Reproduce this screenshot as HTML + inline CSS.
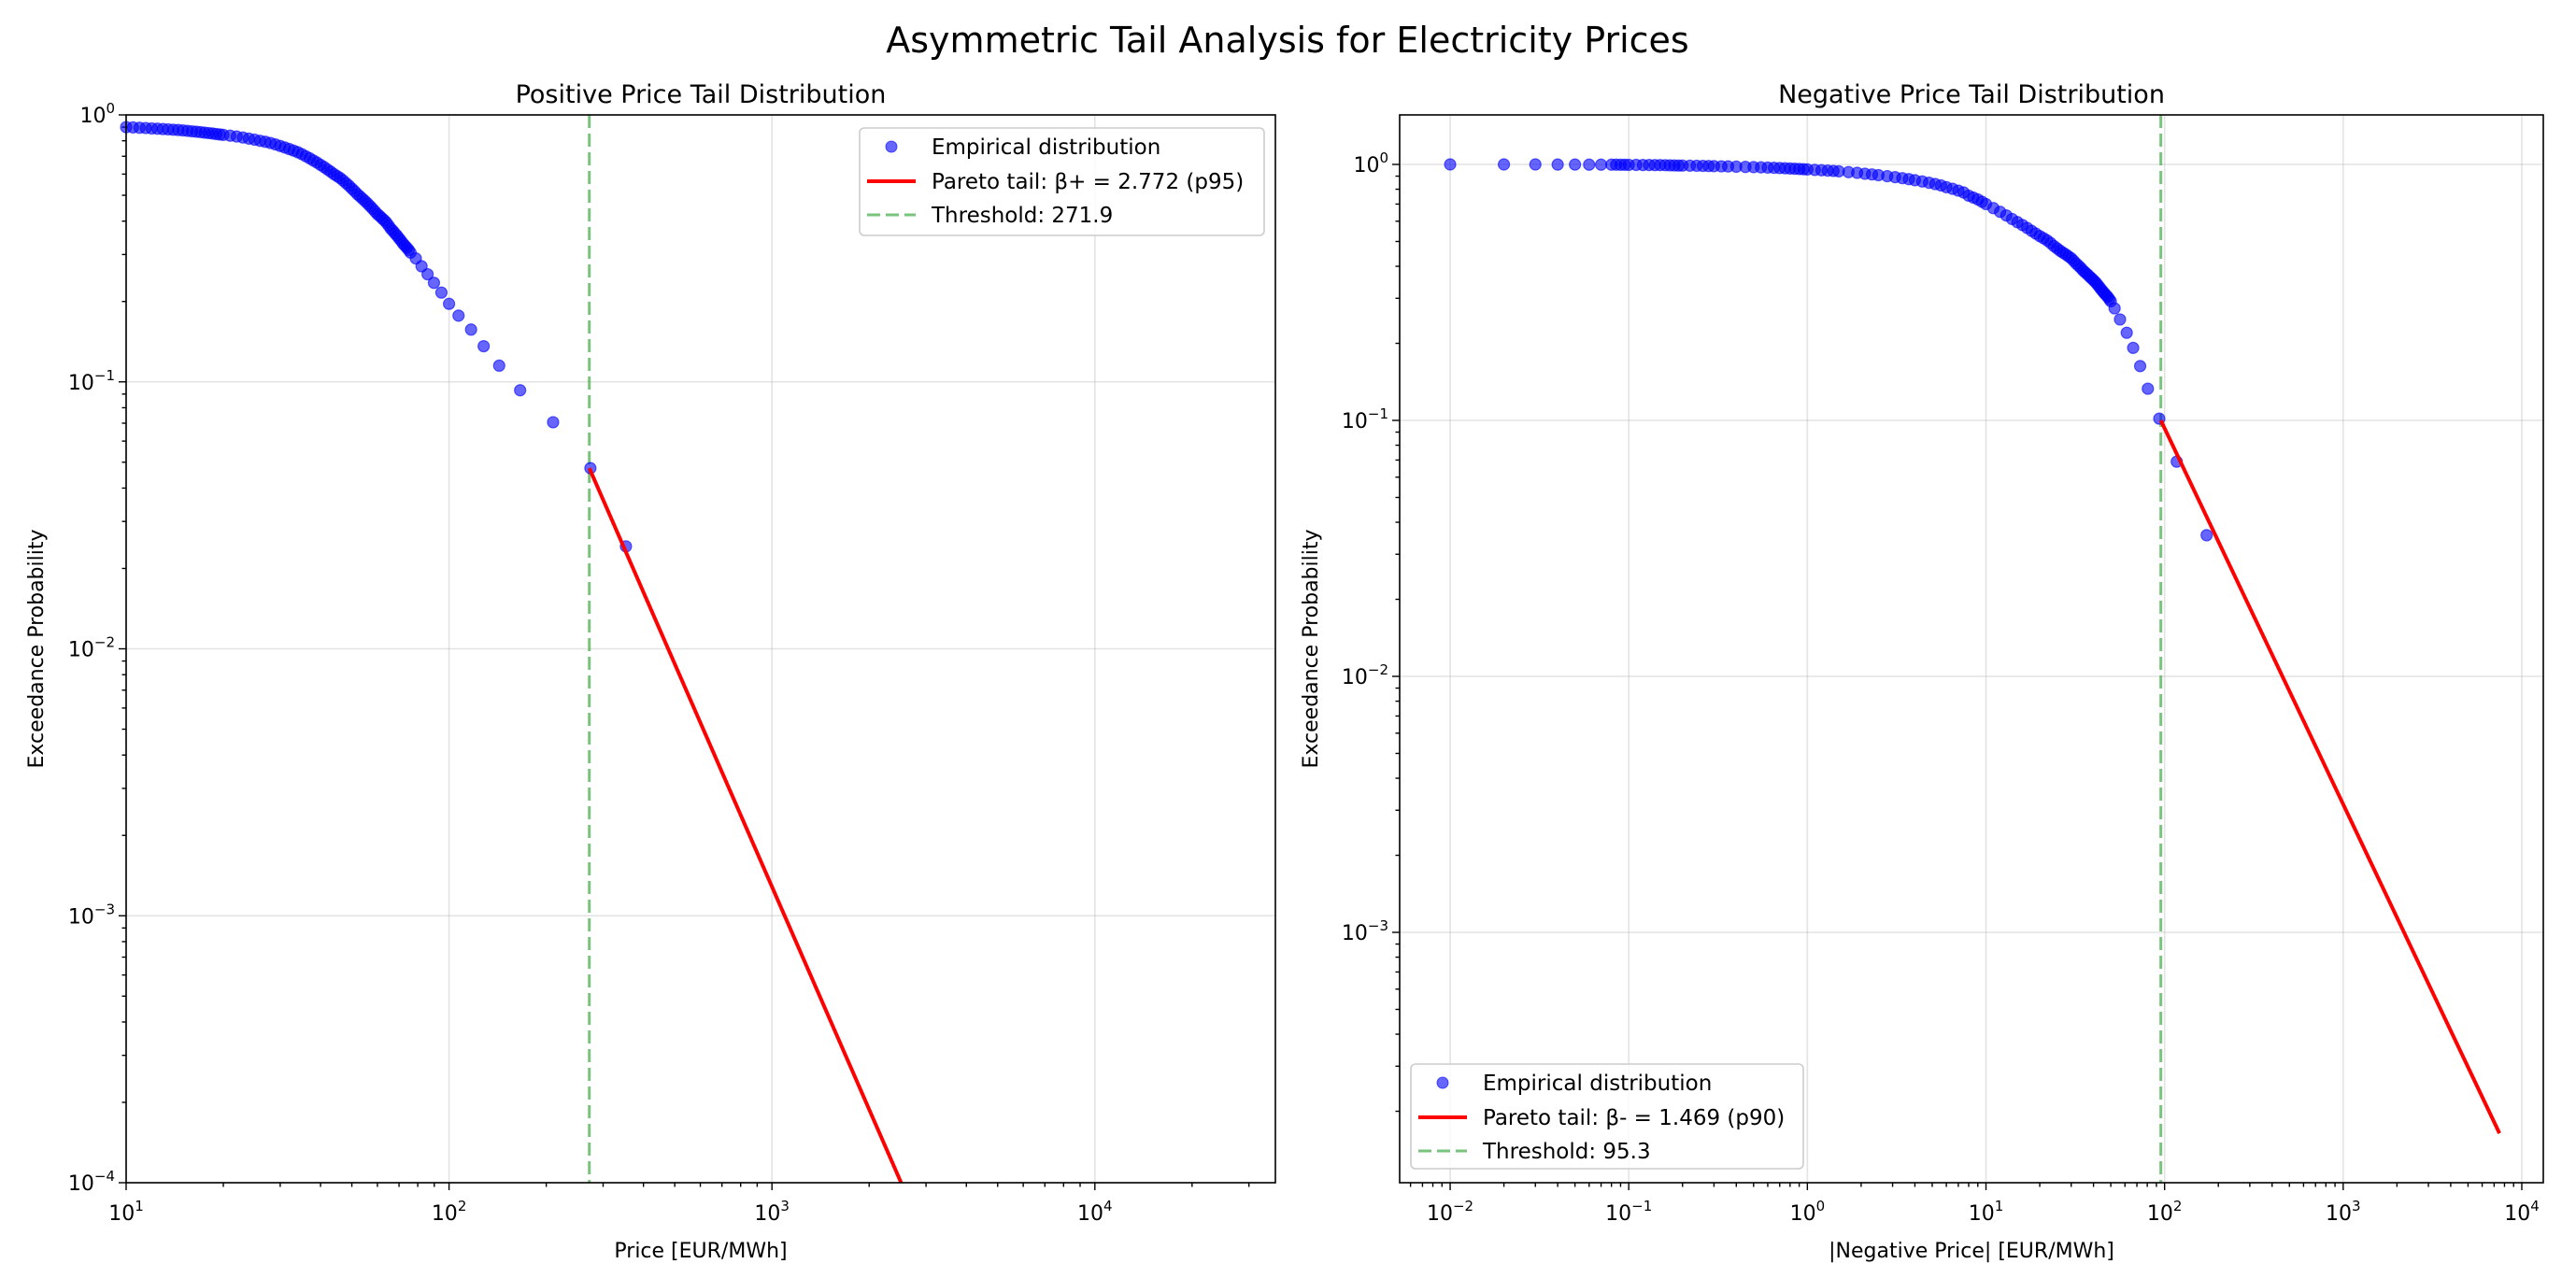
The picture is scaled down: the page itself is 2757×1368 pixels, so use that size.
<!DOCTYPE html>
<html><head><meta charset="utf-8"><style>
html,body{margin:0;padding:0;background:#fff;}
svg{display:block;font-family:"DejaVu Sans","Liberation Sans",sans-serif;}
</style></head><body>
<svg id="fig" width="2757" height="1368" viewBox="0 0 2757 1368" xmlns="http://www.w3.org/2000/svg">
<text x="1378" y="56" font-size="38" text-anchor="middle">Asymmetric Tail Analysis for Electricity Prices</text>
<g id="left"></g>
<g id="right"></g>
</svg>
<script>
// Positive tail data
const posX = [10,10.5,11,11.5,12,12.5,13,13.5,14,14.5,15,15.5,16,16.5,17,17.5,18,18.5,19,19.5,
  20,21,22,23,24,25,26,27,28,29,30,31,32,33,34,35,36,37,38,39,40,41,42,43,44,45,46,47,48,49,50,51,52,53,54,55,56,57,58,59,60,61,62,63,64,65,66,67,68,69,70,71,72,73,74,75,76,
  78.9,82.2,85.8,89.8,94.7,100,107,117,128,143,166,210,274,353];
const posY = [0.90,0.898,0.895,0.893,0.89,0.888,0.885,0.883,0.88,0.878,0.875,0.871,0.868,0.865,0.862,0.858,0.855,0.852,0.848,0.845,
  0.842,0.836,0.83,0.823,0.815,0.808,0.80,0.793,0.785,0.775,0.765,0.755,0.745,0.735,0.725,0.713,0.70,0.688,0.675,0.663,0.65,0.638,0.625,0.613,0.60,0.59,0.58,0.568,0.555,0.543,0.53,0.518,0.505,0.495,0.485,0.475,0.465,0.455,0.445,0.435,0.425,0.418,0.41,0.403,0.395,0.385,0.375,0.368,0.36,0.353,0.345,0.338,0.33,0.324,0.318,0.312,0.305,
  0.29,0.271,0.253,0.235,0.216,0.196,0.177,0.157,0.136,0.115,0.093,0.0706,0.0475,0.0242];
const posThreshold = 271.9, posBeta = 2.772, posY0 = 0.0475, posXEnd = 2515;
// Negative tail data
const negX = [0.01,0.02,0.03,0.04,0.05,0.06,0.07,
  0.08,0.085,0.09,0.095,0.1,0.11,0.12,0.13,0.14,0.15,0.16,0.17,0.18,0.19,0.2,0.22,0.24,0.26,0.28,0.3,0.33,0.36,0.4,0.45,0.5,0.55,0.6,0.65,0.7,0.75,0.8,0.85,0.9,0.95,1,
  1.1,1.2,1.3,1.4,1.5,1.7,1.9,2.1,2.3,2.5,2.8,3.1,3.4,3.7,4,4.4,4.8,5.2,5.6,6,6.5,7,7.5,8,8.5,9,9.5,
  10,11,12,13,14,15,16,17,18,19,20,21,22,23,24,25,26,27,28,29,30,31,32,33,34,35,36,37,38,39,40,41,42,43,44,45,46,47,48,49,50,
  52.5,56.3,61.4,66.7,73,80.6,93.4,117,172];
const negY = [1,1,1,0.999,0.999,0.998,0.998,
  0.998,0.998,0.997,0.997,0.996,0.996,0.995,0.995,0.994,0.994,0.993,0.992,0.991,0.99,0.99,0.989,0.988,0.987,0.986,0.985,0.983,0.982,0.98,0.978,0.976,0.974,0.972,0.97,0.968,0.966,0.964,0.962,0.96,0.958,0.956,
  0.952,0.949,0.946,0.943,0.94,0.933,0.927,0.92,0.914,0.908,0.9,0.892,0.884,0.876,0.868,0.858,0.848,0.838,0.828,0.815,0.803,0.79,0.777,0.755,0.742,0.73,0.715,
  0.70,0.675,0.653,0.632,0.612,0.595,0.58,0.565,0.55,0.537,0.525,0.515,0.505,0.493,0.48,0.47,0.46,0.452,0.445,0.437,0.43,0.42,0.41,0.402,0.394,0.385,0.378,0.372,0.365,0.359,0.353,0.347,0.34,0.333,0.326,0.32,0.314,0.309,0.304,0.298,0.292,
  0.274,0.248,0.22,0.192,0.163,0.133,0.1016,0.069,0.0356];
const negThreshold = 95.3, negBeta = 1.469, negY0 = 0.1, negXEnd = 7500;

const NS="http://www.w3.org/2000/svg";
function mk(parent, tag, attrs, text){
  const e=document.createElementNS(NS,tag);
  for(const k in attrs) e.setAttribute(k,attrs[k]);
  if(text!==undefined) e.textContent=text;
  parent.appendChild(e); return e;
}
function supLabel(g,x,y,exp,anchor){
  const t=mk(g,'text',{x:x,y:y,'font-size':22,'text-anchor':anchor});
  
  
  const a=document.createElementNS(NS,'tspan'); a.textContent='10'; t.appendChild(a);
  const b=document.createElementNS(NS,'tspan'); b.setAttribute('font-size','15'); b.setAttribute('dy','-10'); b.textContent=(exp<0?'\u2212':'')+Math.abs(exp); t.appendChild(b);
  return t;
}
function panel(g,cfg){
  const {L,R,T,B,lx0,lx1,ly0,ly1}=cfg;
  const sx=v=>L+(Math.log10(v)-lx0)/(lx1-lx0)*(R-L);
  const sy=v=>B-(Math.log10(v)-ly0)/(ly1-ly0)*(B-T);
  for(let e=Math.ceil(lx0);e<=Math.floor(lx1);e++){
    const gl=mk(g,'line',{x1:sx(10**e),x2:sx(10**e),y1:T,y2:B,stroke:'#b0b0b0','stroke-opacity':0.35,'stroke-width':1.6});
    
    
  }
  for(let e=Math.ceil(ly0);e<=Math.floor(ly1);e++){
    const gl=mk(g,'line',{x1:L,x2:R,y1:sy(10**e),y2:sy(10**e),stroke:'#b0b0b0','stroke-opacity':0.35,'stroke-width':1.6});
    
    
  }
  for(let e=Math.floor(lx0);e<=Math.ceil(lx1);e++){
    for(let m=1;m<10;m++){
      const v=m*10**e, lv=Math.log10(v);
      if(lv<lx0-1e-9||lv>lx1+1e-9) continue;
      const x=sx(v);
      mk(g,'line',{x1:x,x2:x,y1:B,y2:B+(m===1?8:4.5),stroke:'#000','stroke-width':1.4});
      if(m===1) supLabel(g,x,B+40,e,'middle');
    }
  }
  for(let e=Math.floor(ly0);e<=Math.ceil(ly1);e++){
    for(let m=1;m<10;m++){
      const v=m*10**e, lv=Math.log10(v);
      if(lv<ly0-1e-9||lv>ly1+1e-9) continue;
      const y=sy(v);
      mk(g,'line',{x1:L,x2:L-(m===1?8:4.5),y1:y,y2:y,stroke:'#000','stroke-width':1.4});
      if(m===1) supLabel(g,L-12,y+8,e,'end');
    }
  }
  const th=mk(g,'line',{x1:sx(cfg.th),x2:sx(cfg.th),y1:T,y2:B,stroke:'#4caf50','stroke-opacity':0.75,'stroke-width':3,'stroke-dasharray':'14,6'});
  
  
  for(let i=0;i<cfg.xs.length;i++){
    const c=mk(g,'circle',{cx:sx(cfg.xs[i]),cy:sy(cfg.ys[i]),r:6,fill:'#0000ff','fill-opacity':0.6,stroke:'#0000ff','stroke-opacity':0.6,'stroke-width':1.2});
    
    
  }
  let xe=cfg.xEnd, ye=cfg.y0*Math.pow(xe/cfg.th,-cfg.beta);
  const ymin=10**ly0;
  if(ye<ymin){ ye=ymin; xe=cfg.th*Math.pow(cfg.y0/ymin,1/cfg.beta); }
  const pl=mk(g,'line',{x1:sx(cfg.th),y1:sy(cfg.y0),x2:sx(xe),y2:sy(ye),stroke:'#ff0000','stroke-width':4});
  
  
  const fr=mk(g,'rect',{x:L,y:T,width:R-L,height:B-T,fill:'none',stroke:'#000','stroke-width':1.6});
  
  
  const tt=mk(g,'text',{x:(L+R)/2,y:T-13,'font-size':27,'text-anchor':'middle'},cfg.title);
  
  
  const xl=mk(g,'text',{x:(L+R)/2,y:B+80,'font-size':22,'text-anchor':'middle'},cfg.xlabel);
  
  
  const yl=mk(g,'text',{x:0,y:0,'font-size':22,'text-anchor':'middle',transform:`translate(${cfg.ylx},${(T+B)/2}) rotate(-90)`},'Exceedance Probability');
  
  
  const lg=mk(g,'g',{});
  
  
  const [bx,by,bw,bh]=cfg.leg;
  mk(lg,'rect',{x:bx,y:by,width:bw,height:bh,rx:5,fill:'#fff','fill-opacity':0.8,stroke:'#cccccc','stroke-width':1.6});
  const rows=[by+28,by+65,by+101];
  mk(lg,'circle',{cx:bx+34,cy:rows[0]-8,r:6,fill:'#0000ff','fill-opacity':0.6,stroke:'#0000ff','stroke-opacity':0.6});
  mk(lg,'line',{x1:bx+8,x2:bx+60,y1:rows[1]-8,y2:rows[1]-8,stroke:'#ff0000','stroke-width':4});
  mk(lg,'line',{x1:bx+8,x2:bx+60,y1:rows[2]-8,y2:rows[2]-8,stroke:'#4caf50','stroke-opacity':0.75,'stroke-width':3,'stroke-dasharray':'14,6'});
  cfg.legText.forEach((s,i)=>{
    const t=mk(lg,'text',{x:bx+77,y:rows[i],'font-size':23},s);
    
    
  });
}
panel(document.getElementById('left'),{L:135,R:1365,T:123,B:1266,lx0:1,lx1:1+(1365-135)/345.6,ly0:-4,ly1:0,
  xs:posX,ys:posY,th:posThreshold,beta:posBeta,y0:posY0,xEnd:posXEnd,
  title:'Positive Price Tail Distribution',xlabel:'Price [EUR/MWh]',ylx:46,
  leg:[920,137,433,115],legText:['Empirical distribution','Pareto tail: \u03b2+ = 2.772 (p95)','Threshold: 271.9']});
panel(document.getElementById('right'),{L:1498,R:2722,T:123,B:1266,lx0:-2-54/191,lx1:4+23/191,ly0:-3-268/274,ly1:53/274,
  xs:negX,ys:negY,th:negThreshold,beta:negBeta,y0:negY0,xEnd:negXEnd,
  title:'Negative Price Tail Distribution',xlabel:'|Negative Price| [EUR/MWh]',ylx:1410,
  leg:[1510,1139,420,112],legText:['Empirical distribution','Pareto tail: \u03b2- = 1.469 (p90)','Threshold: 95.3']});
</script>
</body></html>
